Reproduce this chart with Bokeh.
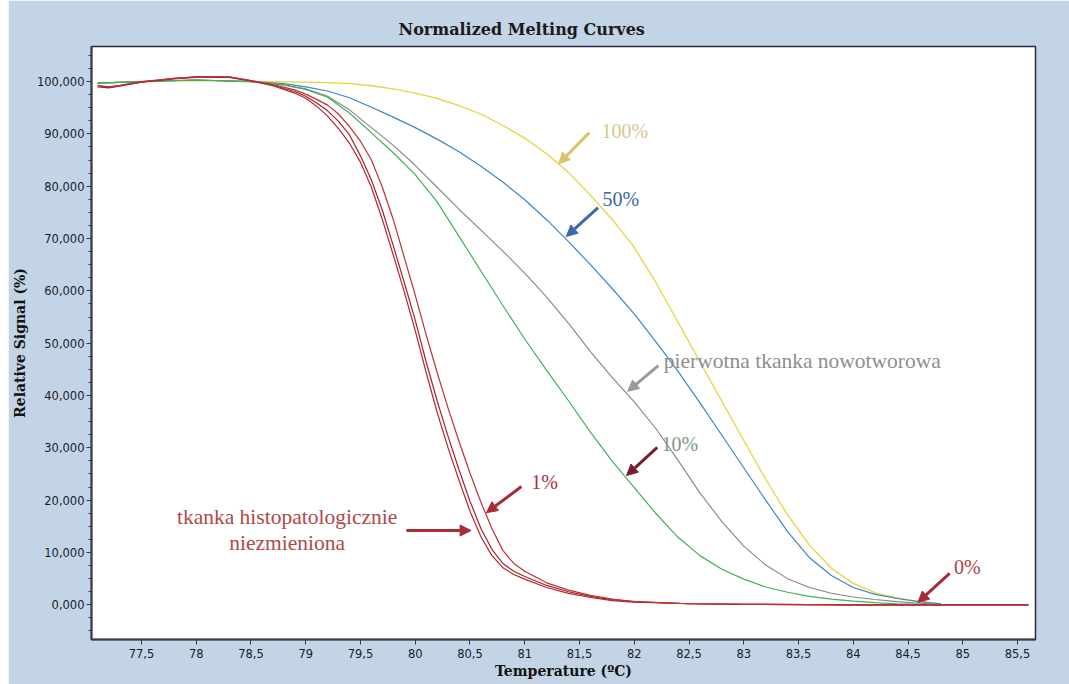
from bokeh.plotting import figure
from bokeh.models import Range1d, FixedTicker, Arrow, NormalHead, Label, Spacer
from bokeh.layouts import row
from bokeh.embed import file_html
from bokeh.resources import INLINE

# ---- data -----------------------------------------------------------------
# temperature grid shared by the 100 %, 50 %, primary tumour and 10 % curves
temp_std = [77.1, 77.5, 78.0, 78.5, 78.8,
            79.0, 79.2, 79.4, 79.6, 79.8, 80.0, 80.2, 80.4, 80.6, 80.8,
            81.0, 81.2, 81.4, 81.6, 81.8, 82.0, 82.2, 82.4, 82.6, 82.8,
            83.0, 83.2, 83.4, 83.6, 83.8, 84.0, 84.2, 84.4, 84.6, 84.8]

signal_100 = [99.8, 100.0, 100.2, 100.0, 99.95,
              99.9, 99.8, 99.6, 99.2, 98.6, 97.8, 96.8, 95.4, 93.8, 91.6,
              89.2, 86.2, 82.6, 78.3, 73.6, 68.3, 61.5, 54.0, 46.4, 38.9,
              31.4, 24.0, 17.2, 11.4, 7.0, 4.1, 2.3, 1.3, 0.6, 0.2]

signal_50 = [99.7, 100.0, 100.3, 100.0, 99.6,
             99.0, 98.2, 96.9, 95.1, 93.2, 91.2, 89.0, 86.6, 83.8, 80.8,
             77.4, 73.6, 69.4, 65.0, 60.4, 55.6, 50.2, 44.6, 38.6, 32.4,
             26.2, 20.0, 14.0, 9.0, 5.6, 3.3, 2.0, 1.2, 0.6, 0.2]

signal_primary = [99.7, 100.0, 100.3, 100.0, 99.4,
                  98.6, 97.2, 94.6, 91.2, 87.8, 84.0, 79.8, 75.6, 71.6, 67.6,
                  63.4, 58.8, 53.8, 48.4, 43.4, 38.8, 33.6, 27.6, 21.4, 15.9,
                  11.2, 7.6, 5.0, 3.3, 2.2, 1.5, 1.0, 0.6, 0.3, 0.1]

signal_10 = [99.7, 100.0, 100.3, 100.0, 99.3,
             98.5, 97.0, 94.0, 90.2, 86.4, 82.2, 77.0, 70.4, 63.8, 57.2,
             50.8, 44.8, 39.0, 33.0, 27.4, 22.4, 17.4, 12.9, 9.4, 6.8,
             4.9, 3.4, 2.4, 1.6, 1.1, 0.7, 0.4, 0.2, 0.1, 0.0]

# finer grid for the three steep (normal tissue / 1 % / 0 %) curves
temp_red = [77.1, 77.2, 77.3, 77.5, 77.8, 78.0, 78.3, 78.5, 78.7, 78.9,
            79.0, 79.1, 79.2, 79.3, 79.4, 79.5, 79.6, 79.7, 79.8, 79.9,
            80.0, 80.1, 80.2, 80.3, 80.4, 80.5, 80.6, 80.7, 80.8, 80.9, 81.0,
            81.2, 81.4, 81.6, 81.8, 82.0, 82.5, 83.0, 84.0, 85.0, 85.6]

signal_normal = [99.2, 98.9, 99.2, 99.9, 100.5, 100.8, 100.8, 100.1, 99.2, 97.8,
                 96.8, 95.3, 93.4, 91.0, 88.2, 84.6, 79.8, 73.6, 66.8, 59.8,
                 52.4, 44.4, 36.8, 30.0, 23.8, 17.9, 13.0, 9.4, 7.1, 5.8, 4.9,
                 3.3, 2.2, 1.4, 0.8, 0.5, 0.2, 0.1, 0.0, 0.0, 0.0]

signal_0 = [99.0, 98.8, 99.1, 99.9, 100.6, 100.9, 100.9, 100.2, 99.3, 98.1,
            97.2, 95.9, 94.4, 92.4, 89.8, 85.8, 81.2, 75.4, 68.6, 61.6,
            54.4, 46.4, 39.0, 32.2, 25.8, 19.8, 14.6, 10.6, 7.9, 6.4, 5.4,
            3.7, 2.5, 1.6, 1.0, 0.6, 0.2, 0.1, 0.0, 0.0, 0.0]

signal_1 = [99.3, 99.0, 99.3, 100.0, 100.6, 100.9, 100.9, 100.2, 99.4, 98.4,
            97.6, 96.6, 95.5, 93.8, 91.4, 88.6, 85.0, 79.8, 73.6, 66.4,
            59.2, 51.6, 44.4, 37.6, 31.2, 25.2, 19.6, 14.6, 10.4, 7.9, 6.4,
            4.2, 2.8, 1.8, 1.1, 0.6, 0.2, 0.1, 0.0, 0.0, 0.0]

x_ticks = [77.5, 78, 78.5, 79, 79.5, 80, 80.5, 81, 81.5, 82, 82.5, 83, 83.5, 84, 84.5, 85, 85.5]
x_tick_labels = ["77,5", "78", "78,5", "79", "79,5", "80", "80,5", "81", "81,5",
                 "82", "82,5", "83", "83,5", "84", "84,5", "85", "85,5"]
y_ticks = [0, 10, 20, 30, 40, 50, 60, 70, 80, 90, 100]
y_tick_labels = ["0,000", "10,000", "20,000", "30,000", "40,000", "50,000",
                 "60,000", "70,000", "80,000", "90,000", "100,000"]
y_minor = [-5 + 2.5 * i for i in range(45)]

# ---- figure ---------------------------------------------------------------
BG = "#c2d4e6"
AXIS = "#3a3a4a"
SERIF = "Liberation Serif"

p = figure(width=1061, height=684, output_backend="svg", toolbar_location=None,
           x_range=Range1d(77.044, 85.664), y_range=Range1d(-6.63, 106.7),
           min_border_left=81, min_border_right=34, min_border_top=46, min_border_bottom=45)

p.border_fill_color = BG
p.background_fill_color = "white"
p.outline_line_color = "#2b2b3a"
p.outline_line_width = 1.5
p.grid.visible = False

p.title.text = "Normalized Melting Curves"
p.title.text_font = "DejaVu Serif"
p.title.text_font_size = "16px"
p.title.text_font_style = "bold"
p.title.text_color = "#1a1a1a"
p.title.align = "left"
p.title.offset = 307
p.title.standoff = 15

p.xaxis.ticker = FixedTicker(ticks=x_ticks, minor_ticks=[])
p.xaxis.major_label_overrides = dict(zip(x_ticks, x_tick_labels))
p.yaxis.ticker = FixedTicker(ticks=y_ticks, minor_ticks=y_minor)
p.yaxis.major_label_overrides = dict(zip(y_ticks, y_tick_labels))

for ax in (p.xaxis[0], p.yaxis[0]):
    ax.axis_line_color = AXIS
    ax.axis_line_width = 2
    ax.major_tick_line_color = AXIS
    ax.minor_tick_line_color = AXIS
    ax.major_tick_in = 0
    ax.major_tick_out = 5
    ax.minor_tick_in = 0
    ax.minor_tick_out = 3
    ax.major_label_text_font = "DejaVu Sans"
    ax.major_label_text_font_size = "11.5px"
    ax.major_label_text_color = "#1c1c2c"
    ax.axis_label_text_font = "DejaVu Serif"
    ax.axis_label_text_font_style = "bold"
    ax.axis_label_text_font_size = "14px"
    ax.axis_label_text_color = "#111111"

p.xaxis.axis_label = "Temperature (ºC)"
p.yaxis.axis_label = "Relative Signal (%)"
p.xaxis.major_label_standoff = 4
p.xaxis.axis_label_standoff = 2
p.yaxis.major_label_standoff = 2
p.yaxis.axis_label_standoff = 6

# ---- curves ---------------------------------------------------------------
p.line(temp_std, signal_100, line_color="#e8d33a", line_width=1.3)
p.line(temp_std, signal_50, line_color="#3b86c8", line_width=1.2)
p.line(temp_std, signal_primary, line_color="#858585", line_width=1.1)
p.line(temp_std, signal_10, line_color="#3fb060", line_width=1.2)
p.line(temp_red, signal_normal, line_color="#b02a2a", line_width=1.2)
p.line(temp_red, signal_0, line_color="#a82030", line_width=1.2)
p.line(temp_red, signal_1, line_color="#c03030", line_width=1.2)


# ---- annotations ----------------------------------------------------------
def arrow(x0, y0, x1, y1, color):
    p.add_layout(Arrow(end=NormalHead(size=11, fill_color=color, line_color=color),
                       x_start=x0, y_start=y0, x_end=x1, y_end=y1,
                       line_color=color, line_width=3))


def note(x, y, text, color, align="left", size="20px"):
    p.add_layout(Label(x=x, y=y, text=text, text_color=color, text_font=SERIF,
                       text_font_size=size, text_baseline="middle", text_align=align))


arrow(81.59, 90.25, 81.31, 84.3, "#d9c46a")
note(81.70, 90.5, "100%", "#d8c88c")

arrow(81.67, 75.9, 81.38, 70.4, "#3a6aa8")
note(81.71, 77.6, "50%", "#3a64a0")

arrow(82.22, 45.7, 81.94, 40.8, "#9a9a9a")
note(82.27, 46.5, "pierwotna tkanka nowotworowa", "#8e8e8e", size="21.5px")

arrow(82.21, 30.1, 81.93, 24.7, "#7a1c30")
note(82.25, 30.8, "10%", "#7a9a7c")

arrow(80.97, 22.6, 80.65, 17.6, "#a82c36")
note(81.06, 23.4, "1%", "#a83040")

arrow(79.92, 14.2, 80.51, 14.2, "#a82c36")
note(78.83, 16.7, "tkanka histopatologicznie", "#b04848", align="center", size="21.5px")
note(78.83, 11.9, "niezmieniona", "#b04848", align="center", size="21.5px")

arrow(84.88, 6.0, 84.59, 0.45, "#a82c36")
note(84.92, 7.3, "0%", "#b04048")

layout = row(Spacer(width=8, height=684), p)
open("out.html", "w").write(file_html(layout, INLINE))
